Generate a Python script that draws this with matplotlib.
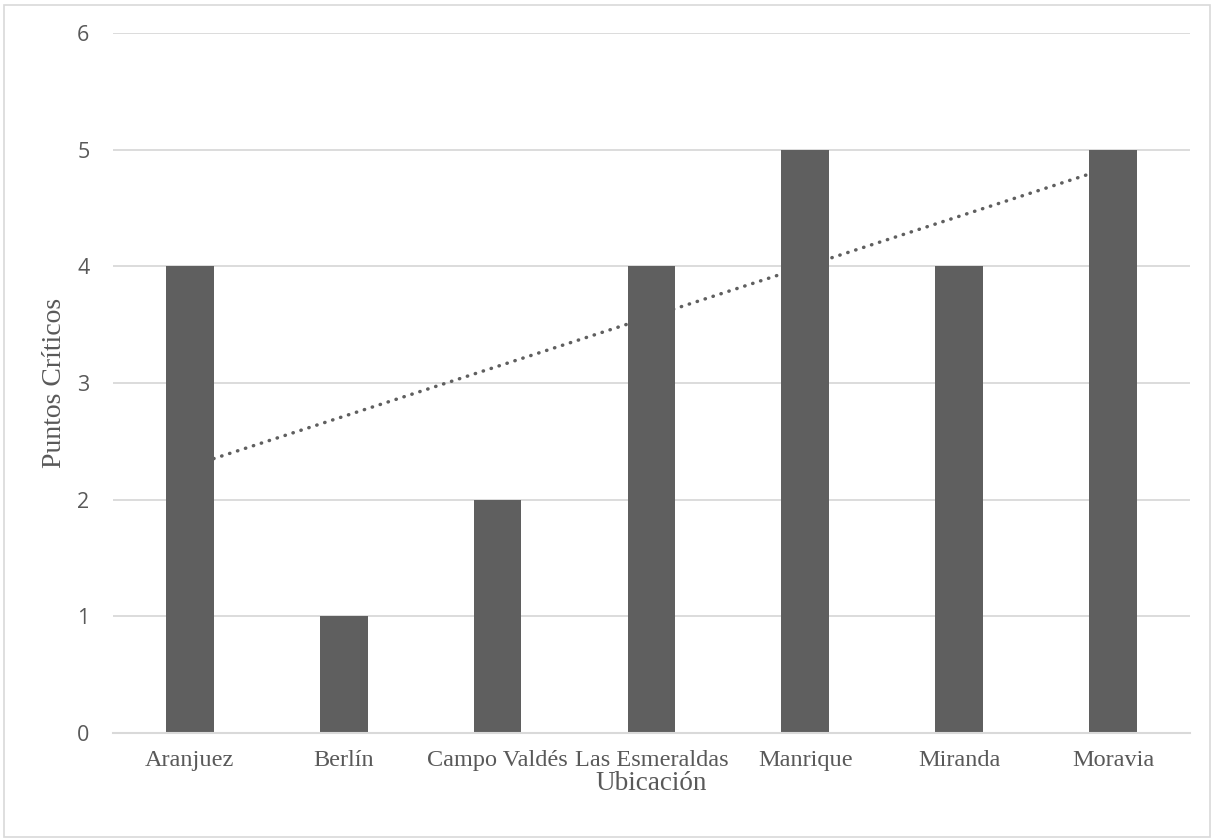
import numpy as np
import matplotlib
matplotlib.use("AGG")
import matplotlib.pyplot as plt
from matplotlib.patches import Rectangle

# datos
ubicaciones = ["Aranjuez", "Berlín", "Campo Valdés", "Las Esmeraldas",
               "Manrique", "Miranda", "Moravia"]
puntos_criticos = [4, 1, 2, 4, 5, 4, 5]
y_ticks = [0, 1, 2, 3, 4, 5, 6]

bar_color = "#5f5f5f"
grid_color = "#d9d9d9"
text_color = "#595959"

fig = plt.figure(figsize=(12.14, 8.4), dpi=100)
ax = fig.add_axes([0.0931, 0.1274, 0.8870, 0.8333])

x = np.arange(1, len(ubicaciones) + 1)
ax.bar(x, puntos_criticos, width=0.31, color=bar_color, zorder=3)

# linea de tendencia lineal (como Excel)
pend, orden = np.polyfit(x, puntos_criticos, 1)
ax.plot(x, pend * x + orden, color=bar_color, linewidth=2.5,
        linestyle=(0, (0.1, 2.3)), dash_capstyle="round", zorder=2)

ax.set_xlim(0.5, len(ubicaciones) + 0.5)
ax.set_ylim(0, 6)
ax.set_yticks(y_ticks)
ax.set_xticks(x)
ax.set_xticklabels(ubicaciones, family="Liberation Serif", fontsize=17.5, color=text_color)
ax.set_yticklabels([str(v) for v in y_ticks], family="Open Sans", fontsize=15.5, color=text_color)
ax.tick_params(axis="both", length=0)
ax.tick_params(axis="x", pad=12)
ax.tick_params(axis="y", pad=17)

ax.yaxis.grid(True, color=grid_color, linewidth=1.3, zorder=0)
ax.set_axisbelow(True)
for s in ["top", "right", "left"]:
    ax.spines[s].set_visible(False)
ax.spines["bottom"].set_color(grid_color)
ax.spines["bottom"].set_linewidth(1.5)
ax.spines["bottom"].set_zorder(4)

ax.set_xlabel("Ubicación", family="Liberation Serif", fontsize=19.5, color=text_color)
ax.xaxis.set_label_coords(0.5, -0.055)
ax.xaxis.label.set_verticalalignment("top")
ax.set_ylabel("Puntos Críticos", family="Liberation Serif", fontsize=20, color=text_color)
ax.yaxis.set_label_coords(-0.0545, 0.5)
ax.yaxis.label.set_verticalalignment("center")

# borde del area del grafico
fig.patches.append(Rectangle((0.003, 0.003), 0.994, 0.991, transform=fig.transFigure,
                             fill=False, edgecolor=grid_color, linewidth=1.2))

fig.savefig("out.png", dpi=100)
